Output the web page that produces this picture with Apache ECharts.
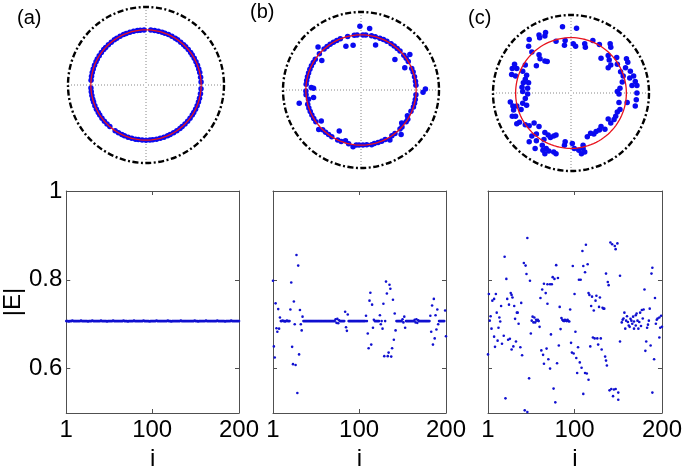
<!DOCTYPE html>
<html><head><meta charset="utf-8">
<script src="https://cdn.jsdelivr.net/npm/echarts@6/dist/echarts.min.js"></script>
<style>html,body{margin:0;padding:0;background:#fff}#c{width:685px;height:472px}</style>
</head><body><div id="c"></div>
<script>
const FONT = "'Liberation Sans', Arial, sans-serif";
const PANEL_LABELS = ['(a)', '(b)', '(c)'];
const X_TICKS = [1, 100, 200];
const Y_TICKS = [0.6, 0.8, 1];
const FIT_R = [0.707, 0.707, 0.71];
const E_RING = 0.707;

// bottom row: |E_i|, i = 1..200
const E_A = [
0.707,0.707,0.707,0.706,0.707,0.707,0.707,0.708,0.707,0.707,0.707,0.707,0.707,0.707,0.707,0.707,0.707,0.708,0.707,0.707,
0.707,0.707,0.707,0.707,0.707,0.706,0.707,0.707,0.707,0.707,0.708,0.707,0.707,0.707,0.707,0.707,0.707,0.707,0.707,0.707,
0.708,0.707,0.707,0.707,0.707,0.707,0.707,0.706,0.707,0.707,0.707,0.707,0.707,0.707,0.708,0.707,0.707,0.707,0.707,0.707,
0.707,0.707,0.707,0.707,0.707,0.707,0.708,0.707,0.707,0.707,0.707,0.706,0.707,0.707,0.707,0.707,0.707,0.707,0.708,0.707,
0.707,0.707,0.707,0.707,0.707,0.707,0.707,0.707,0.707,0.708,0.707,0.707,0.707,0.707,0.707,0.707,0.706,0.707,0.707,0.707,
0.707,0.707,0.707,0.707,0.708,0.707,0.707,0.707,0.707,0.707,0.707,0.707,0.707,0.707,0.707,0.707,0.707,0.708,0.707,0.707,
0.707,0.706,0.707,0.707,0.707,0.707,0.707,0.707,0.707,0.707,0.707,0.707,0.708,0.707,0.707,0.707,0.707,0.707,0.707,0.707,
0.707,0.707,0.707,0.707,0.707,0.707,0.707,0.707,0.708,0.707,0.707,0.707,0.706,0.707,0.707,0.707,0.707,0.707,0.707,0.707,
0.707,0.708,0.707,0.707,0.707,0.707,0.707,0.707,0.707,0.707,0.707,0.707,0.707,0.707,0.708,0.707,0.707,0.707,0.707,0.707,
0.707,0.707,0.707,0.706,0.707,0.707,0.707,0.707,0.707,0.707,0.708,0.707,0.707,0.707,0.707,0.707,0.707,0.707,0.707,0.707
];
const E_B = [
0.798,0.650,0.625,0.747,0.691,0.683,0.734,0.690,0.715,0.707,
0.707,0.708,0.707,0.707,0.706,0.707,0.708,0.707,0.707,0.707,
0.733,0.794,0.649,0.610,0.751,0.700,0.608,0.856,0.545,0.832,
0.632,0.732,0.700,0.686,0.717,0.707,0.707,0.707,0.707,0.707,
0.707,0.707,0.707,0.707,0.707,0.707,0.707,0.707,0.707,0.707,
0.707,0.707,0.707,0.707,0.707,0.707,0.707,0.707,0.707,0.707,
0.707,0.707,0.707,0.707,0.707,0.707,0.707,0.707,0.707,0.707,
0.707,0.707,0.711,0.703,0.712,0.702,0.709,0.707,0.707,0.707,
0.707,0.707,0.707,0.728,0.693,0.685,0.722,0.707,0.707,0.707,
0.707,0.707,0.707,0.707,0.707,0.707,0.707,0.707,0.707,0.707,
0.707,0.707,0.707,0.707,0.707,0.707,0.707,0.719,0.707,0.679,
0.646,0.753,0.771,0.654,0.744,0.692,0.710,0.707,0.707,0.707,
0.707,0.707,0.707,0.720,0.700,0.707,0.690,0.746,0.628,0.707,
0.796,0.769,0.628,0.636,0.789,0.780,0.627,0.646,0.755,0.665,
0.724,0.686,0.707,0.707,0.707,0.707,0.707,0.707,0.707,0.711,
0.704,0.717,0.692,0.707,0.707,0.707,0.707,0.707,0.707,0.707,
0.707,0.707,0.707,0.710,0.704,0.711,0.703,0.709,0.707,0.707,
0.707,0.707,0.707,0.707,0.707,0.707,0.707,0.707,0.707,0.707,
0.707,0.719,0.683,0.742,0.654,0.757,0.668,0.720,0.688,0.733,
0.700,0.707,0.707,0.707,0.707,0.707,0.707,0.707,0.731,0.673
];
// panel (c): [i, |E_i|]
const C_POINTS = [
[2,0.768],[3,0.708],[1,0.632],[4,0.718],[5,0.690],[6,0.753],[8,0.757],[8,0.672],[9,0.649],[10,0.768],
[11,0.726],[12,0.663],[13,0.692],[14,0.715],[15,0.706],[16,0.741],[17,0.656],[19,0.674],[20,0.852],[21,0.533],
[22,0.802],[23,0.757],[24,0.665],[25,0.744],[26,0.667],[27,0.770],[28,0.643],[28,0.766],[29,0.760],[30,0.650],
[31,0.741],[32,0.712],[33,0.661],[34,0.726],[35,0.726],[36,0.701],[38,0.648],[39,0.748],[40,0.630],[42,0.838],
[43,0.506],[44,0.832],[45,0.813],[46,0.502],[46,0.894],[48,0.578],[49,0.798],[50,0.679],[51,0.708],[52,0.717],
[53,0.704],[54,0.715],[55,0.704],[56,0.710],[57,0.708],[58,0.710],[59,0.707],[60,0.694],[61,0.759],[62,0.641],
[63,0.778],[64,0.631],[65,0.791],[65,0.611],[67,0.770],[68,0.645],[69,0.746],[69,0.790],[70,0.621],[72,0.790],
[72,0.600],[73,0.677],[74,0.790],[75,0.806],[76,0.555],[77,0.802],[78,0.524],[79,0.833],[80,0.612],[81,0.804],
[82,0.652],[83,0.739],[84,0.689],[85,0.714],[86,0.710],[87,0.708],[88,0.707],[89,0.710],[89,0.708],[91,0.707],
[91,0.708],[92,0.710],[93,0.707],[94,0.706],[95,0.733],[96,0.658],[97,0.636],[98,0.831],[99,0.634],[100,0.768],
[101,0.683],[102,0.624],[103,0.590],[104,0.648],[105,0.800],[106,0.614],[107,0.800],[108,0.602],[109,0.865],[110,0.543],
[110,0.831],[112,0.817],[112,0.590],[113,0.879],[114,0.589],[115,0.835],[116,0.575],[116,0.770],[117,0.766],[118,0.650],
[119,0.741],[120,0.762],[121,0.670],[122,0.731],[123,0.668],[124,0.753],[125,0.764],[126,0.668],[127,0.654],[128,0.739],
[129,0.760],[130,0.668],[131,0.643],[132,0.737],[133,0.735],[134,0.735],[135,0.627],[136,0.618],[136,0.814],[137,0.607],
[138,0.795],[139,0.788],[140,0.551],[141,0.884],[142,0.554],[143,0.880],[144,0.538],[145,0.553],[146,0.876],[147,0.869],
[147,0.554],[149,0.882],[150,0.546],[150,0.530],[152,0.809],[152,0.661],[154,0.704],[155,0.710],[156,0.713],[157,0.726],
[158,0.690],[159,0.708],[160,0.718],[161,0.705],[162,0.697],[163,0.694],[164,0.712],[165,0.708],[166,0.701],[167,0.717],
[168,0.706],[168,0.690],[170,0.720],[170,0.697],[171,0.724],[172,0.708],[173,0.690],[174,0.705],[175,0.726],[176,0.696],
[177,0.732],[178,0.713],[179,0.733],[180,0.778],[181,0.640],[182,0.661],[183,0.692],[184,0.699],[185,0.708],[186,0.735],
[187,0.652],[188,0.814],[189,0.546],[189,0.827],[191,0.621],[192,0.759],[193,0.701],[194,0.710],[195,0.713],[197,0.715],
[197,0.670],[198,0.692],[199,0.719],[200,0.694]
];

// top row: phases (deg) of the points lying on the ring |E| = E_RING
const RING_A = [3,8,13,17,21,25,29,33,36,40,44,47,51,55,58,62,66,70,73,77,81,85,92,96,99,103,107,111,114,118,
122,125,129,133,137,140,144,148,152,155,159,163,167,171,175,183,187,191,195,198,202,206,210,213,217,221,225,229,236,240,
244,247,251,255,259,262,266,270,274,277,281,285,289,293,296,300,304,308,311,315,319,323,327,330,334,338,342,346,351,356];
const RING_B = [5,9,14,19,23,31,35,39,45,49,53,57,62,66,70,75,79,85,88,94,97,104,112,116,120,124,128,132,139,146,
150,154,158,162,166,170,174,181,185,195,199,203,207,211,215,226,230,234,238,245,249,257,265,268,272,276,284,288,292,296,
304,308,315,318,325,328,342,346,350,355];
// panel (b) points off the ring: [|E|, phase deg]
const OFF_B = [[0.817,91],[0.796,82],[0.594,109],[0.583,100],[0.605,72],[0.779,135],[0.629,143],[0.585,42],[0.774,36],
[0.630,27],[0.826,1],[0.796,358],[0.609,178],[0.616,189],[0.810,192],[0.696,337],[0.680,331],[0.671,321],[0.769,312],
[0.646,218],[0.594,242],[0.741,223],[0.734,262],[0.715,281],[0.741,300],[0.680,253],[0.639,177],[0.683,190]];
// panel (c) points: [Re E, Im E]
const REIM_C = [
[-0.109,0.849],[0.071,0.831],[-0.326,0.775],[-0.410,0.744],[-0.335,0.731],[-0.402,0.709],[-0.192,0.665],[-0.075,0.674],
[-0.084,0.613],[0.029,0.630],[0.059,0.600],[0.176,0.630],[0.184,0.586],[0.280,0.674],[0.364,0.621],[0.502,0.630],
[0.510,0.586],[-0.536,0.687],[-0.544,0.600],[-0.502,0.525],[-0.410,0.490],[-0.397,0.438],[-0.444,0.350],[-0.335,0.411],
[-0.305,0.403],[0.385,0.446],[0.477,0.481],[0.490,0.424],[0.586,0.455],[0.594,0.368],[0.510,0.359],[0.477,0.324],
[0.711,0.438],[0.728,0.394],[0.699,0.324],[0.636,0.271],[0.761,0.280],[0.803,0.219],[0.824,0.149],[0.845,0.096],
[0.782,0.096],[0.753,0.193],[0.669,0.219],[0.657,0.140],[0.628,0.061],[0.594,0.018],[0.615,-0.013],[0.845,0.000],
[0.837,-0.088],[0.824,-0.166],[0.720,-0.123],[0.615,-0.123],[0.628,-0.210],[0.594,-0.245],[0.573,-0.298],[0.552,-0.341],
[0.510,-0.385],[0.477,-0.333],[0.435,-0.464],[0.385,-0.429],[0.364,-0.473],[0.322,-0.494],[0.293,-0.525],[0.251,-0.516],
[0.209,-0.560],[0.155,-0.670],[0.155,-0.713],[0.134,-0.779],[0.176,-0.757],[0.100,-0.735],[0.042,-0.713],[0.017,-0.648],
[-0.075,-0.626],[-0.084,-0.670],[-0.192,-0.538],[-0.222,-0.551],[-0.293,-0.538],[-0.264,-0.569],[-0.335,-0.508],[-0.347,-0.595],
[-0.368,-0.670],[-0.318,-0.713],[-0.285,-0.744],[-0.222,-0.757],[-0.192,-0.779],[-0.335,-0.779],[-0.360,-0.735],[-0.460,-0.713],
[-0.444,-0.613],[-0.536,-0.626],[-0.502,-0.551],[-0.444,-0.525],[-0.410,-0.429],[-0.473,-0.385],[-0.536,-0.420],[-0.586,-0.407],
[-0.661,-0.376],[-0.695,-0.394],[-0.711,-0.298],[-0.753,-0.298],[-0.778,-0.114],[-0.745,-0.166],[-0.736,-0.219],[-0.695,-0.166],
[-0.640,-0.210],[-0.619,-0.131],[-0.569,-0.158],[-0.586,-0.070],[-0.556,-0.013],[-0.619,0.018],[-0.628,0.074],[-0.556,0.061],
[-0.544,0.131],[-0.611,0.131],[-0.586,0.175],[-0.569,0.228],[-0.619,0.280],[-0.586,0.359],[-0.695,0.315],[-0.753,0.315],
[-0.761,0.236],[-0.711,0.219],[-0.724,0.368]
];

const BLUE_TOP = '#0a0af0';
const BLUE_BOT = '#1010d0';
const AXC = '#505050';

const gridPos = [
  {left: 65, top: 191, width: 174, height: 231},
  {left: 273, top: 191, width: 173, height: 231},
  {left: 488, top: 191, width: 174, height: 231}
];
const polarPos = [
  {center: [146, 85], radius: 78},
  {center: [361, 90], radius: 78},
  {center: [571, 93], radius: 78}
];
const titlePos = [{left: 17, top: 8}, {left: 250, top: 2}, {left: 468, top: 8}];

const xAxes = [], yAxes = [], series = [], angleAxes = [], radiusAxes = [], titles = [];
const bottomData = [
  E_A.map((v, k) => [k + 1, v]),
  E_B.map((v, k) => [k + 1, v]),
  C_POINTS
];
const topData = [
  RING_A.map(p => [E_RING, p]),
  RING_B.map(p => [E_RING, p]).concat(OFF_B),
  REIM_C.map(([re, im]) => {
    let a = Math.atan2(im, re) * 180 / Math.PI; if (a < 0) a += 360;
    return [Math.hypot(re, im), a];
  })
];

for (let k = 0; k < 3; k++) {
  titles.push({text: PANEL_LABELS[k], left: titlePos[k].left, top: titlePos[k].top, padding: 0,
    textStyle: {fontSize: 20, fontWeight: 'normal', color: '#000', fontFamily: FONT}});
  const lineStyle = {color: AXC, width: 1};
  xAxes.push({gridIndex: k, type: 'value', min: 1, max: 200, position: 'bottom',
    axisLine: {show: true, onZero: false, lineStyle},
    axisTick: {show: true, inside: true, length: 4, customValues: X_TICKS, lineStyle},
    axisLabel: {show: true, customValues: X_TICKS, fontSize: 24, color: '#000', margin: 5, fontFamily: FONT},
    splitLine: {show: false},
    name: 'i', nameLocation: 'middle', nameGap: 34,
    nameTextStyle: {fontSize: 24, color: '#000', fontFamily: FONT}});
  xAxes.push({gridIndex: k, type: 'value', min: 1, max: 200, position: 'top',
    axisLine: {show: true, onZero: false, lineStyle},
    axisTick: {show: true, inside: true, length: 4, customValues: X_TICKS, lineStyle},
    axisLabel: {show: false}, splitLine: {show: false}});
  const yl = {gridIndex: k, type: 'value', min: 0.5, max: 1, position: 'left',
    axisLine: {show: true, onZero: false, lineStyle},
    axisTick: {show: true, inside: true, length: 4, customValues: Y_TICKS, lineStyle},
    axisLabel: {show: k === 0, customValues: Y_TICKS, fontSize: 24, color: '#000', margin: 4, fontFamily: FONT},
    splitLine: {show: false}};
  if (k === 0) {
    yl.name = '|E|'; yl.nameLocation = 'middle'; yl.nameGap = 40;
    yl.nameTextStyle = {fontSize: 24, color: '#000', fontFamily: FONT};
  }
  yAxes.push(yl);
  yAxes.push({gridIndex: k, type: 'value', min: 0.5, max: 1, position: 'right',
    axisLine: {show: true, onZero: false, lineStyle},
    axisTick: {show: true, inside: true, length: 4, customValues: Y_TICKS, lineStyle},
    axisLabel: {show: false}, splitLine: {show: false}});

  angleAxes.push({polarIndex: k, type: 'value', min: 0, max: 360, interval: 90, startAngle: 0, clockwise: false,
    axisLine: {show: true, lineStyle: {color: '#000', width: 2.4, type: [6, 2.5, 2, 2.5]}},
    axisTick: {show: false}, axisLabel: {show: false},
    splitLine: {show: true, lineStyle: {color: '#888', width: 1, type: [1, 2]}}});
  radiusAxes.push({polarIndex: k, type: 'value', min: 0, max: 1,
    axisLine: {show: false}, axisTick: {show: false}, axisLabel: {show: false}, splitLine: {show: false}});

  series.push({type: 'scatter', xAxisIndex: 2 * k, yAxisIndex: 2 * k, data: bottomData[k],
    symbolSize: 2.6, itemStyle: {color: BLUE_BOT, opacity: 1}, silent: true});
  series.push({type: 'scatter', coordinateSystem: 'polar', polarIndex: k, data: topData[k],
    symbolSize: 5.5, itemStyle: {color: BLUE_TOP, opacity: 1}, silent: true, z: 2});
  const circ = [];
  for (let a = 0; a <= 360; a += 3) circ.push([FIT_R[k], a]);
  series.push({type: 'line', coordinateSystem: 'polar', polarIndex: k, data: circ,
    showSymbol: false, symbol: 'none', lineStyle: {color: '#e8141e', width: 1.3}, silent: true, z: 3});
}

const chart = echarts.init(document.getElementById('c'), null, {renderer: 'canvas'});
chart.setOption({
  animation: false,
  backgroundColor: '#fff',
  title: titles,
  grid: gridPos,
  polar: polarPos,
  angleAxis: angleAxes,
  radiusAxis: radiusAxes,
  xAxis: xAxes,
  yAxis: yAxes,
  series: series
});
</script></body></html>
